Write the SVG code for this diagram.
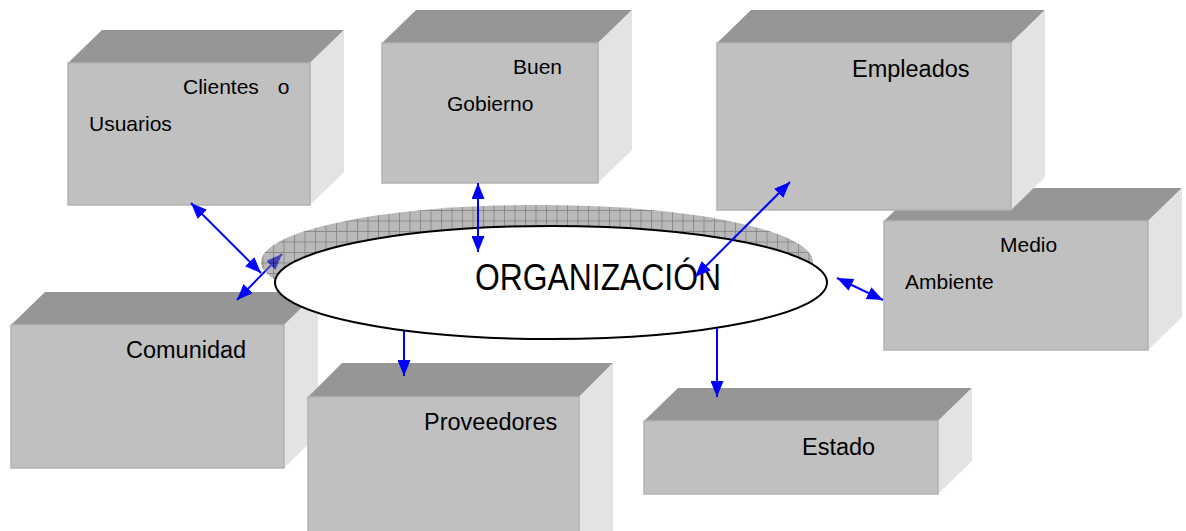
<svg xmlns="http://www.w3.org/2000/svg" width="1186" height="531" viewBox="0 0 1186 531">
<style>
.top{fill:#969696}
.front{fill:#c0c0c0;stroke:#b2b2b2;stroke-width:1.5}
.side{fill:#e3e3e3}
.lbl{font-family:"Liberation Sans",Arial,sans-serif;fill:#000}
.sm{font-size:21px}
.lg{font-size:23.5px}
.con{stroke:#0000ff;stroke-width:2;fill:none}
</style>
<defs>
<marker id="ah" viewBox="0 0 16 13" refX="16" refY="6.5" markerWidth="16" markerHeight="13" markerUnits="userSpaceOnUse" orient="auto-start-reverse">
<path d="M0,0 L16,6.5 L0,13 z" fill="#0000ff"/>
</marker>
<pattern id="dots" width="2" height="2" patternUnits="userSpaceOnUse">
<rect width="2" height="2" fill="#989898"/>
<rect width="1" height="1" fill="#686868"/>
<rect x="1" y="1" width="1" height="1" fill="#686868"/>
</pattern>
<pattern id="hatch" width="10.5" height="10.5" patternUnits="userSpaceOnUse">
<rect width="10.5" height="10.5" fill="url(#dots)"/>
<path d="M0,0.5 H10.5 M0.5,0 V10.5" stroke="#2a2a2a" stroke-width="1"/>
</pattern>
</defs>
<rect width="1186" height="531" fill="#fff"/>

<g id="comunidad">
<polygon class="top" points="11,325 284,325 318,292 45,292"/>
<polygon class="side" points="284,325 318,292 318,435 284,468"/>
<rect class="front" x="11" y="325" width="273" height="143"/>
<text class="lbl lg" x="126" y="358">Comunidad</text>
</g>

<g id="proveedores">
<polygon class="top" points="308,397 579,397 613,363 342,363"/>
<polygon class="side" points="579,397 613,363 613,540 579,540"/>
<rect class="front" x="308" y="397" width="271" height="145"/>
<text class="lbl lg" x="424" y="430">Proveedores</text>
</g>

<g id="clientes">
<polygon class="top" points="68,63 310,63 344,30 102,30"/>
<polygon class="side" points="310,63 344,30 344,172 310,205"/>
<rect class="front" x="68" y="63" width="242" height="142"/>
<text class="lbl sm" x="183" y="94" word-spacing="13">Clientes o</text>
<text class="lbl sm" x="89" y="131">Usuarios</text>
</g>

<g id="buen-gobierno">
<polygon class="top" points="382,43 598,43 632,10 416,10"/>
<polygon class="side" points="598,43 632,10 632,150 598,183"/>
<rect class="front" x="382" y="43" width="216" height="140"/>
<text class="lbl sm" x="513" y="74">Buen</text>
<text class="lbl sm" x="447" y="111">Gobierno</text>
</g>

<g id="medio-ambiente">
<polygon class="top" points="884,221 1148,221 1182,188 918,188"/>
<polygon class="side" points="1148,221 1182,188 1182,317 1148,350"/>
<rect class="front" x="884" y="221" width="264" height="129"/>
<text class="lbl sm" x="1000" y="252">Medio</text>
<text class="lbl sm" x="905" y="289">Ambiente</text>
</g>

<g id="empleados">
<polygon class="top" points="717,43 1011,43 1045,10 751,10"/>
<polygon class="side" points="1011,43 1045,10 1045,177 1011,210"/>
<rect class="front" x="717" y="43" width="294" height="167"/>
<text class="lbl lg" x="852" y="77">Empleados</text>
</g>

<g id="estado">
<polygon class="top" points="644,421 938,421 972,388 678,388"/>
<polygon class="side" points="938,421 972,388 972,461 938,494"/>
<rect class="front" x="644" y="421" width="294" height="73"/>
<text class="lbl lg" x="802" y="455">Estado</text>
</g>

<g id="connectors-under">
<line class="con" x1="237" y1="300" x2="282" y2="254" marker-start="url(#ah)" marker-end="url(#ah)"/>
</g>

<g id="organizacion">
<ellipse cx="537" cy="262" rx="276" ry="57" fill="url(#hatch)" opacity="0.55"/>
<ellipse cx="551" cy="282.5" rx="276" ry="56.5" fill="#fff" stroke="#000" stroke-width="2"/>
<text class="lbl" x="475" y="289.5" font-size="37" textLength="246" lengthAdjust="spacingAndGlyphs">ORGANIZACIÓN</text>
</g>

<g id="connectors">
<line class="con" x1="191" y1="203" x2="261" y2="273" marker-start="url(#ah)" marker-end="url(#ah)"/>
<line class="con" x1="478" y1="183" x2="478" y2="252" marker-start="url(#ah)" marker-end="url(#ah)"/>
<line class="con" x1="790" y1="182" x2="695" y2="277" marker-start="url(#ah)" marker-end="url(#ah)"/>
<line class="con" x1="837" y1="278" x2="883" y2="300" marker-start="url(#ah)" marker-end="url(#ah)"/>
<line class="con" x1="404" y1="331" x2="404" y2="376" marker-end="url(#ah)"/>
<line class="con" x1="717" y1="328" x2="717" y2="397" marker-end="url(#ah)"/>
</g>
</svg>
